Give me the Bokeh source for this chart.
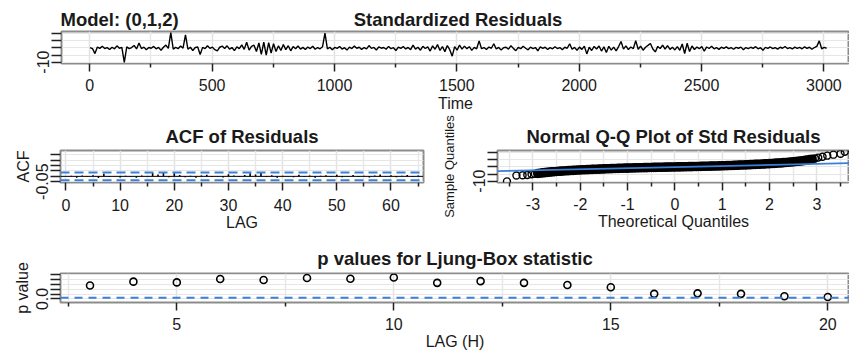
import math
from bokeh.plotting import figure
from bokeh.models import (FixedTicker, CustomJSTickFormatter, Label, Span, Range1d, Slope)
from bokeh.layouts import column, row
from bokeh.embed import file_html
from bokeh.resources import INLINE

FONT = "Liberation Sans"
TXT = "#1a1a1a"
BLUE = "#3b7fdc"
TITLE = "18.5px"

# ---------------- data ----------------
model_title = "Model: (0,1,2)"
resid_step = 10          # one value read per 10 time steps
resid = [
    0.3, -0.5, -4.0, 0.6, -0.3, 1.2, -0.4, 0.2, -1.1, 0.5,
    -0.6, 1.5, -0.2, 0.4, -10.2, 0.8, -0.5, 0.3, 1.8, -0.7,
    3.5, -0.4, 0.6, -1.3, 0.3, -0.2, 1.1, -0.6, 0.4, -1.6,
    0.5, 2.0, -0.3, 10.8, -0.8, 0.4, -0.5, 1.4, -0.2, 9.3,
    -0.9, 0.5, -1.8, 0.3, 0.7, -4.6, 0.4, -0.5, 1.6, -0.3,
    0.6, -1.2, -2.0, 0.5, 1.3, -0.4, 1.5, -0.8, 0.3, -1.9,
    0.8, -0.5, 2.2, -1.0, 4.0, -1.5, 1.2, 2.0, -2.5, 3.5,
    -4.5, 4.2, -5.0, 3.8, -3.6, 3.0, -2.5, 1.5, -1.8, 2.5,
    -1.2, 1.6, -2.0, 1.0, -0.6, 1.4, -0.8, 0.4, -1.1, 0.6,
    -0.4, 1.2, -0.9, 0.3, -0.6, 0.8, 10.5, -0.7, 0.5, -1.3,
    0.4, -0.3, 1.0, -0.8, 0.2, -1.5, 0.6, -0.4, 1.3, -0.2,
    0.5, -1.0, 0.3, -0.6, 1.7, -0.3, 0.4, -1.4, 0.7, -0.2,
    0.3, -0.9, 1.1, -0.5, 0.2, -1.8, 0.6, -0.3, 1.0, -0.7,
    0.4, -1.2, 2.0, -0.8, 0.5, -1.6, 1.2, -0.4, 0.8, -2.2,
    1.5, -0.9, 2.4, -1.8, 1.0, -2.6, 1.7, -1.2, -5.8, 0.9,
    -1.5, 2.1, -0.8, 1.3, -0.5, 0.9, -1.7, 0.4, -0.6, 5.0,
    -0.5, 0.3, -1.1, 0.6, -0.2, 3.0, -0.7, 0.4, -1.4, 0.2,
    0.5, -0.8, 1.6, -0.3, -1.9, 0.4, -0.5, 1.2, -0.2, -1.3,
    0.6, -0.4, 0.3, -2.0, 0.7, -0.3, 0.5, -1.1, 0.2, -0.6,
    0.9, -0.4, 0.3, -1.2, 0.5, -0.2, 3.0, -0.9, 0.4, -1.6,
    0.6, -1.0, 1.3, -4.2, 0.5, -1.8, 1.1, -0.7, 1.4, -2.2,
    0.8, -3.2, 1.2, -1.5, 0.6, -2.0, 1.0, 4.6, -0.8, 1.5,
    -1.1, 0.7, -0.6, 5.2, -0.9, 1.3, -1.6, 0.5, 1.8, 3.2,
    -0.7, -2.8, 1.1, -0.4, 2.0, -0.8, 1.6, -1.0, 0.5, -1.4,
    0.9, -1.7, 2.8, -3.9, 3.3, -2.5, 1.4, -1.1, 0.6, -0.5,
    1.0, -2.3, 0.7, -0.4, 1.2, -0.6, 0.3, -1.0, 0.5, -0.3,
    0.8, -0.5, 0.2, -0.9, 0.4, -0.2, 0.6, -1.2, 0.3, -0.4,
    0.5, -0.3, 0.9, -0.6, 0.2, -1.6, 0.4, -0.3, 0.7, -0.5,
    0.3, -0.8, 0.5, -0.2, 1.0, -0.4, 0.3, -0.7, 0.6, -0.3,
    0.4, -0.6, 0.8, -0.3, 0.5, -0.9, 0.3, 1.1, 5.0, -0.6,
    0.4, -0.2,
]
time_idx = [1 + resid_step * i for i in range(len(resid))]

acf_lags = list(range(1, 66))
acf_vals = [
    0.005, -0.012, 0.008, -0.004, 0.010, -0.015, 0.024, -0.006, 0.004, -0.010,
    0.006, -0.003, -0.012, 0.009, 0.004, 0.032, 0.018, 0.036, -0.008, 0.030,
    0.012, -0.009, 0.005, -0.014, 0.007, 0.015, -0.006, 0.003, -0.011, 0.020,
    0.008, -0.004, 0.012, 0.028, 0.018, 0.033, -0.007, 0.010, -0.012, 0.006,
    0.004, -0.008, 0.015, -0.005, 0.009, -0.013, 0.005, 0.011, -0.006, 0.014,
    -0.009, 0.004, 0.012, -0.007, 0.006, -0.011, 0.008, 0.017, -0.004, 0.010,
    -0.008, 0.005, 0.013, -0.006, 0.007,
]
n_obs = 3020
acf_bound = 2 / math.sqrt(n_obs)

# Q-Q: dense central band (theoretical quantile positions every 0.05) and tails
qq_band_theo = [round(-2.9 + 0.05 * i, 2) for i in range(117)]
qq_band_sample = [
    -4.60, -4.40, -4.20, -4.00, -3.80, -3.65, -3.50, -3.35, -3.20, -3.08,
    -2.95, -2.82, -2.70, -2.60, -2.50, -2.40, -2.30, -2.20, -2.10, -2.02,
    -1.95, -1.88, -1.80, -1.72, -1.65, -1.58, -1.50, -1.44, -1.38, -1.31,
    -1.25, -1.18, -1.12, -1.06, -1.00, -0.95, -0.90, -0.85, -0.80, -0.75,
    -0.70, -0.65, -0.60, -0.56, -0.52, -0.48, -0.44, -0.40, -0.36, -0.32,
    -0.28, -0.24, -0.20, -0.16, -0.13, -0.09, -0.06, -0.03, 0.00, 0.03,
    0.07, 0.10, 0.14, 0.17, 0.21, 0.25, 0.29, 0.33, 0.37, 0.41,
    0.45, 0.50, 0.54, 0.58, 0.63, 0.68, 0.73, 0.78, 0.84, 0.89,
    0.95, 1.01, 1.07, 1.13, 1.20, 1.27, 1.34, 1.41, 1.48, 1.55,
    1.63, 1.71, 1.80, 1.88, 1.97, 2.06, 2.15, 2.25, 2.35, 2.45,
    2.56, 2.68, 2.80, 2.92, 3.05, 3.20, 3.35, 3.50, 3.65, 3.82,
    4.00, 4.20, 4.40, 4.65, 4.90, 5.20, 5.50,
]
qq_tail_theo = [-3.55, -3.35, -3.22, -3.12, -3.03, -2.96,
                2.96, 3.03, 3.12, 3.22, 3.35, 3.50, 3.59]
qq_tail_sample = [-10.2, -6.0, -5.9, -5.7, -5.2, -4.9,
                  6.0, 6.6, 7.2, 8.0, 8.7, 9.4, 10.8]
qq_line_slope = 0.76
qq_line_intercept = -0.1

pval_lags = list(range(3, 21))
pvals = [0.55, 0.71, 0.68, 0.82, 0.78, 0.86, 0.83, 0.88, 0.66,
         0.73, 0.66, 0.57, 0.48, 0.21, 0.23, 0.21, 0.11, 0.08]
pval_alpha = 0.05


# ---------------- helpers ----------------
def only_label(value, text):
    return CustomJSTickFormatter(
        code="return Math.abs(tick - (%r)) < 1e-9 ? %r : '';" % (value, text))


plain_fmt = CustomJSTickFormatter(code="return String(Math.round(tick * 100) / 100);")


def make_fig(w, h, xr, yr, bl, br, bt, bb, title=None):
    p = figure(width=w, height=h, x_range=Range1d(*xr), y_range=Range1d(*yr),
               output_backend="svg", toolbar_location=None, title=title,
               frame_align=False,
               min_border_left=bl, min_border_right=br,
               min_border_top=bt, min_border_bottom=bb)
    p.outline_line_color = "#8c8c8c"
    p.outline_line_width = 2
    p.background_fill_color = "white"
    p.border_fill_color = "white"
    p.xaxis.axis_line_color = None
    p.yaxis.axis_line_color = None
    for ax in (p.xaxis[0], p.yaxis[0]):
        ax.major_tick_in = 0
        ax.minor_tick_in = 0
        ax.major_tick_line_color = "#222222"
        ax.minor_tick_line_color = "#222222"
        ax.major_tick_line_width = 1.5
        ax.minor_tick_line_width = 1.5
        ax.major_label_text_font = FONT
        ax.major_label_text_font_size = "16px"
        ax.major_label_text_color = TXT
        ax.axis_label_text_font = FONT
        ax.axis_label_text_font_size = "16px"
        ax.axis_label_text_font_style = "normal"
        ax.axis_label_text_color = TXT
    p.xaxis.major_tick_out = 8
    p.xaxis.minor_tick_out = 4
    p.xaxis.major_label_standoff = 7
    p.xaxis.formatter = plain_fmt
    p.yaxis.major_tick_out = 10
    p.yaxis.minor_tick_out = 0
    p.yaxis.major_label_standoff = 2
    p.yaxis.major_label_orientation = "vertical"
    p.xgrid.grid_line_color = "#e2e2e2"
    p.xgrid.grid_line_width = 1.5
    p.xgrid.minor_grid_line_color = "#e8e8e8"
    p.xgrid.minor_grid_line_width = 1.5
    p.ygrid.grid_line_color = "#e6e6e6"
    p.ygrid.grid_line_width = 1.2
    if title is not None:
        p.title.align = "center"
        p.title.text_font = FONT
        p.title.text_font_size = TITLE
        p.title.text_font_style = "bold"
        p.title.text_color = TXT
        p.title.standoff = 8
    return p


def set_ticks(p, xmaj, xmin, ymaj, ylab_val, ylab_txt):
    xt = FixedTicker(ticks=xmaj, minor_ticks=xmin)
    yt = FixedTicker(ticks=ymaj, minor_ticks=[])
    p.xaxis.ticker = xt
    p.xgrid.ticker = xt
    p.yaxis.ticker = yt
    p.ygrid.ticker = yt
    p.yaxis.formatter = only_label(ylab_val, ylab_txt)


# ---------------- row 1: title strip (page pixels) ----------------
STRIP_H = 30
s1 = figure(width=849, height=STRIP_H, x_range=Range1d(0, 849), y_range=Range1d(0, STRIP_H),
            output_backend="svg", toolbar_location=None, title=None,
            x_axis_type=None, y_axis_type=None, frame_align=False,
            min_border_left=0, min_border_right=0, min_border_top=0, min_border_bottom=0)
s1.outline_line_color = None
s1.background_fill_color = "white"
s1.border_fill_color = "white"
s1.xgrid.visible = False
s1.ygrid.visible = False
for x, text, align in ((60, model_title, "left"), (457.5, "Standardized Residuals", "center")):
    s1.add_layout(Label(x=x, y=STRIP_H - 18.5, text=text, text_font=FONT,
                        text_font_size=TITLE, text_font_style="bold", text_color=TXT,
                        text_align=align, text_baseline="alphabetic"))

# ---------------- standardized residuals ----------------
pA = make_fig(849, 84, (-115.65, 3104.6), (-11.0, 11.65), 61, 0, 1, 51)
set_ticks(pA, [0, 500, 1000, 1500, 2000, 2500, 3000],
          [250, 750, 1250, 1750, 2250, 2750], [-10, -5, 0, 5, 10], -10, "-10")
pA.line(time_idx, resid, line_color="black", line_width=1.4)
pA.xaxis.axis_label = "Time"
pA.xaxis.axis_label_standoff = 1

# ---------------- row 2 left: ACF ----------------
pB = make_fig(436, 126, (-1.0, 66.0), (-0.0575, 0.2415), 60, 13, 36, 58,
              title="ACF of Residuals")
set_ticks(pB, [0, 10, 20, 30, 40, 50, 60], [5, 15, 25, 35, 45, 55, 65],
          [-0.05, 0.0, 0.05, 0.10, 0.15, 0.20], -0.05, "-0.05")
pB.segment(x0=acf_lags, y0=[0.0] * len(acf_lags), x1=acf_lags, y1=acf_vals,
           line_color="black", line_width=1.6)
pB.add_layout(Span(location=0, dimension="width", line_color="black", line_width=1))
for loc in (acf_bound, -acf_bound):
    pB.add_layout(Span(location=loc, dimension="width", line_color=BLUE,
                       line_width=2, line_dash="9 5"))
pB.xaxis.axis_label = "LAG"
pB.xaxis.axis_label_standoff = 0
pB.xaxis.major_label_standoff = 8
pB.yaxis.axis_label = "ACF"
pB.yaxis.axis_label_standoff = 2

# ---------------- row 2 right: Normal Q-Q ----------------
pC = make_fig(413, 126, (-3.75, 3.69), (-11.0, 11.65), 61, 0, 36, 58,
              title="Normal Q-Q Plot of Std Residuals")
set_ticks(pC, [-3, -2, -1, 0, 1, 2, 3], [-3.5, -2.5, -1.5, -0.5, 0.5, 1.5, 2.5, 3.5],
          [-10, -5, 0, 5, 10], -10, "-10")
pC.scatter(qq_band_theo, qq_band_sample, marker="circle", size=7, fill_color=None,
           line_color="black", line_width=2.6)
pC.scatter(qq_tail_theo, qq_tail_sample, marker="circle", size=7, fill_color=None,
           line_color="black", line_width=1.4)
pC.add_layout(Slope(gradient=qq_line_slope, y_intercept=qq_line_intercept,
                    line_color=BLUE, line_width=1.6))
pC.xaxis.axis_label = "Theoretical Quantiles"
pC.xaxis.axis_label_standoff = 0
pC.yaxis.axis_label = "Sample Quantiles"
pC.yaxis.axis_label_text_font_size = "13px"
pC.yaxis.axis_label_standoff = 14

# ---------------- row 3: Ljung-Box p values ----------------
pD = make_fig(849, 116, (2.32, 20.5), (-0.144, 1.044), 60, 0, 30, 54,
              title="p values for Ljung-Box statistic")
set_ticks(pD, [5, 10, 15, 20], [2.5, 7.5, 12.5, 17.5],
          [0.0, 0.2, 0.4, 0.6, 0.8, 1.0], 0.0, "0.0")
pD.title.standoff = 10
pD.scatter(pval_lags, pvals, marker="circle", size=7, fill_color=None,
           line_color="black", line_width=1.6)
pD.add_layout(Span(location=pval_alpha, dimension="width", line_color=BLUE,
                   line_width=2, line_dash="8 6"))
pD.xaxis.axis_label = "LAG (H)"
pD.xaxis.axis_label_standoff = 0
pD.yaxis.axis_label = "p value"
pD.yaxis.axis_label_standoff = 3

layout = column(s1, pA, row(pB, pC), pD)
open("out.html", "w").write(file_html(layout, INLINE))
